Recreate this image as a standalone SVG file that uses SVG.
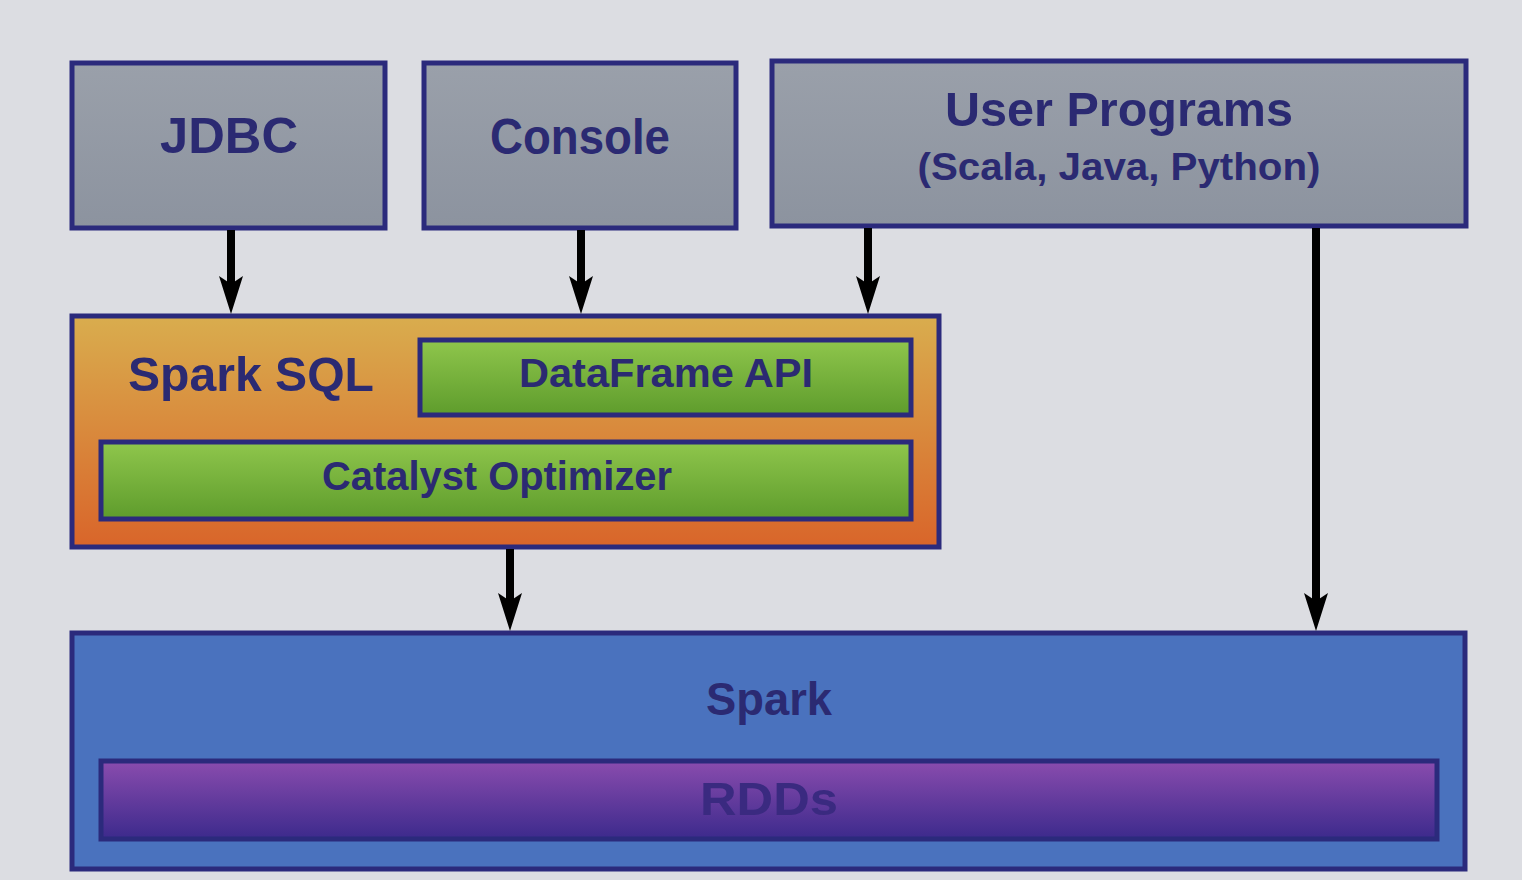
<svg xmlns="http://www.w3.org/2000/svg" width="1522" height="880" viewBox="0 0 1522 880">
<defs>
<linearGradient id="gOrange" x1="0" y1="0" x2="0" y2="1"><stop offset="0" stop-color="#d9ad4e"/><stop offset="1" stop-color="#d9652a"/></linearGradient>
<linearGradient id="gGreen" x1="0" y1="0" x2="0" y2="1"><stop offset="0" stop-color="#8fc64c"/><stop offset="1" stop-color="#5e9c2c"/></linearGradient>
<linearGradient id="gPurple" x1="0" y1="0" x2="0" y2="1"><stop offset="0" stop-color="#8a4cae"/><stop offset="1" stop-color="#3c2a8c"/></linearGradient>
<linearGradient id="gGray" x1="0" y1="0" x2="0" y2="1"><stop offset="0" stop-color="#9aa0aa"/><stop offset="1" stop-color="#8c939f"/></linearGradient>
<marker id="ah" markerWidth="40" markerHeight="28" refX="8" refY="14" orient="auto" markerUnits="userSpaceOnUse" viewBox="0 0 40 28"><path d="M0,2 L38,14 L0,26 L8,14 Z" fill="#000"/></marker>
<style>
.box{stroke:#2b2a7c;stroke-width:5}
.t{font-family:"Liberation Sans",Arial,sans-serif;font-weight:bold;fill:#2b2a72;text-anchor:middle}
.c{stroke:#000;stroke-width:8;fill:none;marker-end:url(#ah)}
</style>
</defs>
<rect x="0" y="0" width="1522" height="880" fill="#dcdde2"/>
<g id="jdbc"><rect class="box" x="72" y="63" width="313" height="165" fill="url(#gGray)"/><text class="t" x="229" y="153" font-size="50" textLength="138" lengthAdjust="spacingAndGlyphs">JDBC</text></g>
<g id="console"><rect class="box" x="424" y="63" width="312" height="165" fill="url(#gGray)"/><text class="t" x="580" y="154" font-size="50" textLength="180" lengthAdjust="spacingAndGlyphs">Console</text></g>
<g id="user-programs"><rect class="box" x="772" y="61" width="694" height="165" fill="url(#gGray)"/><text class="t" x="1119" y="126" font-size="48" textLength="348" lengthAdjust="spacingAndGlyphs">User Programs</text><text class="t" x="1119" y="180" font-size="38" textLength="403" lengthAdjust="spacingAndGlyphs">(Scala, Java, Python)</text></g>
<g id="spark-sql"><rect class="box" x="72" y="316" width="867" height="231" fill="url(#gOrange)"/><text class="t" x="251" y="391" font-size="48" textLength="246" lengthAdjust="spacingAndGlyphs">Spark SQL</text></g>
<g id="dataframe-api"><rect class="box" x="420" y="340" width="491" height="75" fill="url(#gGreen)"/><text class="t" x="666" y="387" font-size="40" textLength="294" lengthAdjust="spacingAndGlyphs">DataFrame API</text></g>
<g id="catalyst"><rect class="box" x="101" y="442" width="810" height="77" fill="url(#gGreen)"/><text class="t" x="497" y="490" font-size="40" textLength="350" lengthAdjust="spacingAndGlyphs">Catalyst Optimizer</text></g>
<g id="spark"><rect class="box" x="72" y="633" width="1393" height="236" fill="#4a72be"/><text class="t" x="769" y="715" font-size="46" textLength="126" lengthAdjust="spacingAndGlyphs">Spark</text></g>
<g id="rdds"><rect class="box" x="101" y="761" width="1336" height="78" fill="url(#gPurple)"/><text class="t" x="769" y="815" font-size="46" textLength="138" lengthAdjust="spacingAndGlyphs" style="fill:#3a2a80">RDDs</text></g>
<g id="connectors">
<line class="c" x1="231" y1="230" x2="231" y2="284"/>
<line class="c" x1="581" y1="230" x2="581" y2="284"/>
<line class="c" x1="868" y1="228" x2="868" y2="284"/>
<line class="c" x1="1316" y1="228" x2="1316" y2="601"/>
<line class="c" x1="510" y1="549" x2="510" y2="601"/>
</g>
</svg>
